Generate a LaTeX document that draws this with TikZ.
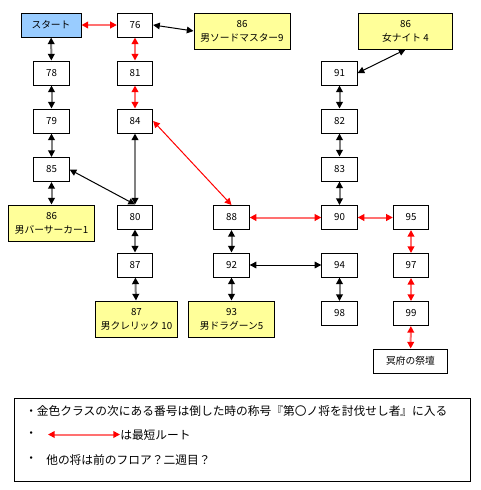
\documentclass[tikz,border=0pt]{standalone}
\usepackage{fontspec}
\setmainfont{Noto Sans CJK JP}
\usetikzlibrary{arrows.meta}
\definecolor{gold}{HTML}{FFFF99}
\definecolor{startblue}{HTML}{99CCFF}
\definecolor{lightred}{HTML}{FF7070}
\begin{document}
\begin{tikzpicture}[x=0.75pt,y=-0.75pt,
  box/.style={draw=black,line width=0.75pt,fill=white,minimum width=26.5pt,minimum height=18pt,inner sep=0pt,font=\fontsize{7.3}{8}\selectfont},
  goldbox/.style={box,fill=gold,minimum height=27pt,align=center,font=\fontsize{7.3}{10.5}\selectfont},
  grayarr/.style={draw=gray,line width=1.5pt,{Triangle[length=5pt,width=5pt,black]}-{Triangle[length=5pt,width=5pt,black]}},
  redarr/.style={draw=lightred,line width=1.5pt,{Triangle[length=5pt,width=5pt,red]}-{Triangle[length=5pt,width=5pt,red]}},
  blackthin/.style={draw=black,line width=0.75pt,{Triangle[length=5pt,width=5pt]}-{Triangle[length=5pt,width=5pt]}},
  redthin/.style={draw=red,line width=0.75pt,{Triangle[length=5pt,width=5pt]}-{Triangle[length=5pt,width=5pt]}},
  legendtext/.style={anchor=west,inner sep=0pt,font=\fontsize{8.8}{10}\selectfont}
]
\useasboundingbox (0,0) rectangle (480,490);
\fill[white] (0,0) rectangle (480,490);

% nodes
\node[box,fill=startblue,minimum width=45pt] (start) at (51,25) {スタート};
\node[box] (n76) at (135,25) {76};
\node[goldbox,minimum width=72pt] (sword) at (242,31) {86\\男ソードマスター9};
\node[goldbox,minimum width=71pt] (knight) at (405.5,31) {86\\女ナイト 4};
\node[box] (n78) at (51.5,73) {78};
\node[box] (n81) at (135,73) {81};
\node[box] (n79) at (51.5,121) {79};
\node[box] (n84) at (135,121) {84};
\node[box] (n91) at (339.5,73) {91};
\node[box] (n82) at (339.5,121) {82};
\node[box] (n83) at (339.5,169) {83};
\node[box] (n85) at (51.5,169.5) {85};
\node[goldbox,minimum width=64pt] (berserker) at (51.5,223) {86\\男バーサーカー1};
\node[box] (n80) at (135,217) {80};
\node[box] (n88) at (231.5,217.5) {88};
\node[box] (n90) at (339.5,217.5) {90};
\node[box] (n95) at (411,217.5) {95};
\node[box] (n87) at (135,265) {87};
\node[box] (n92) at (231.5,265) {92};
\node[box] (n94) at (339.5,265) {94};
\node[box] (n97) at (411,265.5) {97};
\node[goldbox,minimum width=62pt] (cleric) at (136.5,319) {87\\男クレリック 10};
\node[goldbox,minimum width=64pt] (dragoon) at (231.5,319) {93\\男ドラグーン5};
\node[box] (n98) at (339.5,313.5) {98};
\node[box] (n99) at (411,313.5) {99};
\node[box,minimum width=55pt] (meifu) at (410.5,361) {冥府の祭壇};

% connectors
\draw[redarr] (start) -- (n76);
\draw[blackthin] (n76.east) -- (sword.west);
\draw[grayarr] (start) -- (n78);
\draw[grayarr] (n78) -- (n79);
\draw[grayarr] (n79) -- (n85);
\draw[grayarr] (n85) -- (berserker);
\draw[redarr] (n76) -- (n81);
\draw[redarr] (n81) -- (n84);
\draw[grayarr] (n84) -- (n80);
\draw[blackthin] (n85.east) -- (n80.north);
\draw[redthin] (n84.east) -- (n88.north);
\draw[grayarr] (n80) -- (n87);
\draw[grayarr] (n87) -- (cleric);
\draw[grayarr] (n88) -- (n92);
\draw[grayarr] (n92) -- (dragoon);
\draw[redarr] (n88) -- (n90);
\draw[redarr] (n90) -- (n95);
\draw[redarr] (n95) -- (n97);
\draw[redarr] (n97) -- (n99);
\draw[redarr] (n99) -- (meifu);
\draw[blackthin] (n92) -- (n94);
\draw[grayarr] (n94) -- (n98);
\draw[grayarr] (n91) -- (n82);
\draw[grayarr] (n82) -- (n83);
\draw[grayarr] (n83) -- (n90);
\draw[blackthin] (n91.east) -- (knight.south);

% legend
\node[draw=black,line width=0.75pt,minimum width=342pt,minimum height=62.25pt,inner sep=0pt] (legend) at (242,439.5) {};
\node[legendtext] (l1) at (25,411) {・金色クラスの次にある番号は倒した時の称号『第〇ノ将を討伐せし者』に入る};
\node[legendtext] (l2a) at (25,435) {・};
\coordinate (la) at (48,434.5);
\coordinate (lb) at (120,434.5);
\draw[redarr] (la) -- (lb);
\node[legendtext] (l2) at (120,435) {は最短ルート};
\node[legendtext] (l3a) at (25,460) {・};
\node[legendtext] (l3) at (46,460) {他の将は前のフロア？二週目？};
\end{tikzpicture}
\end{document}
